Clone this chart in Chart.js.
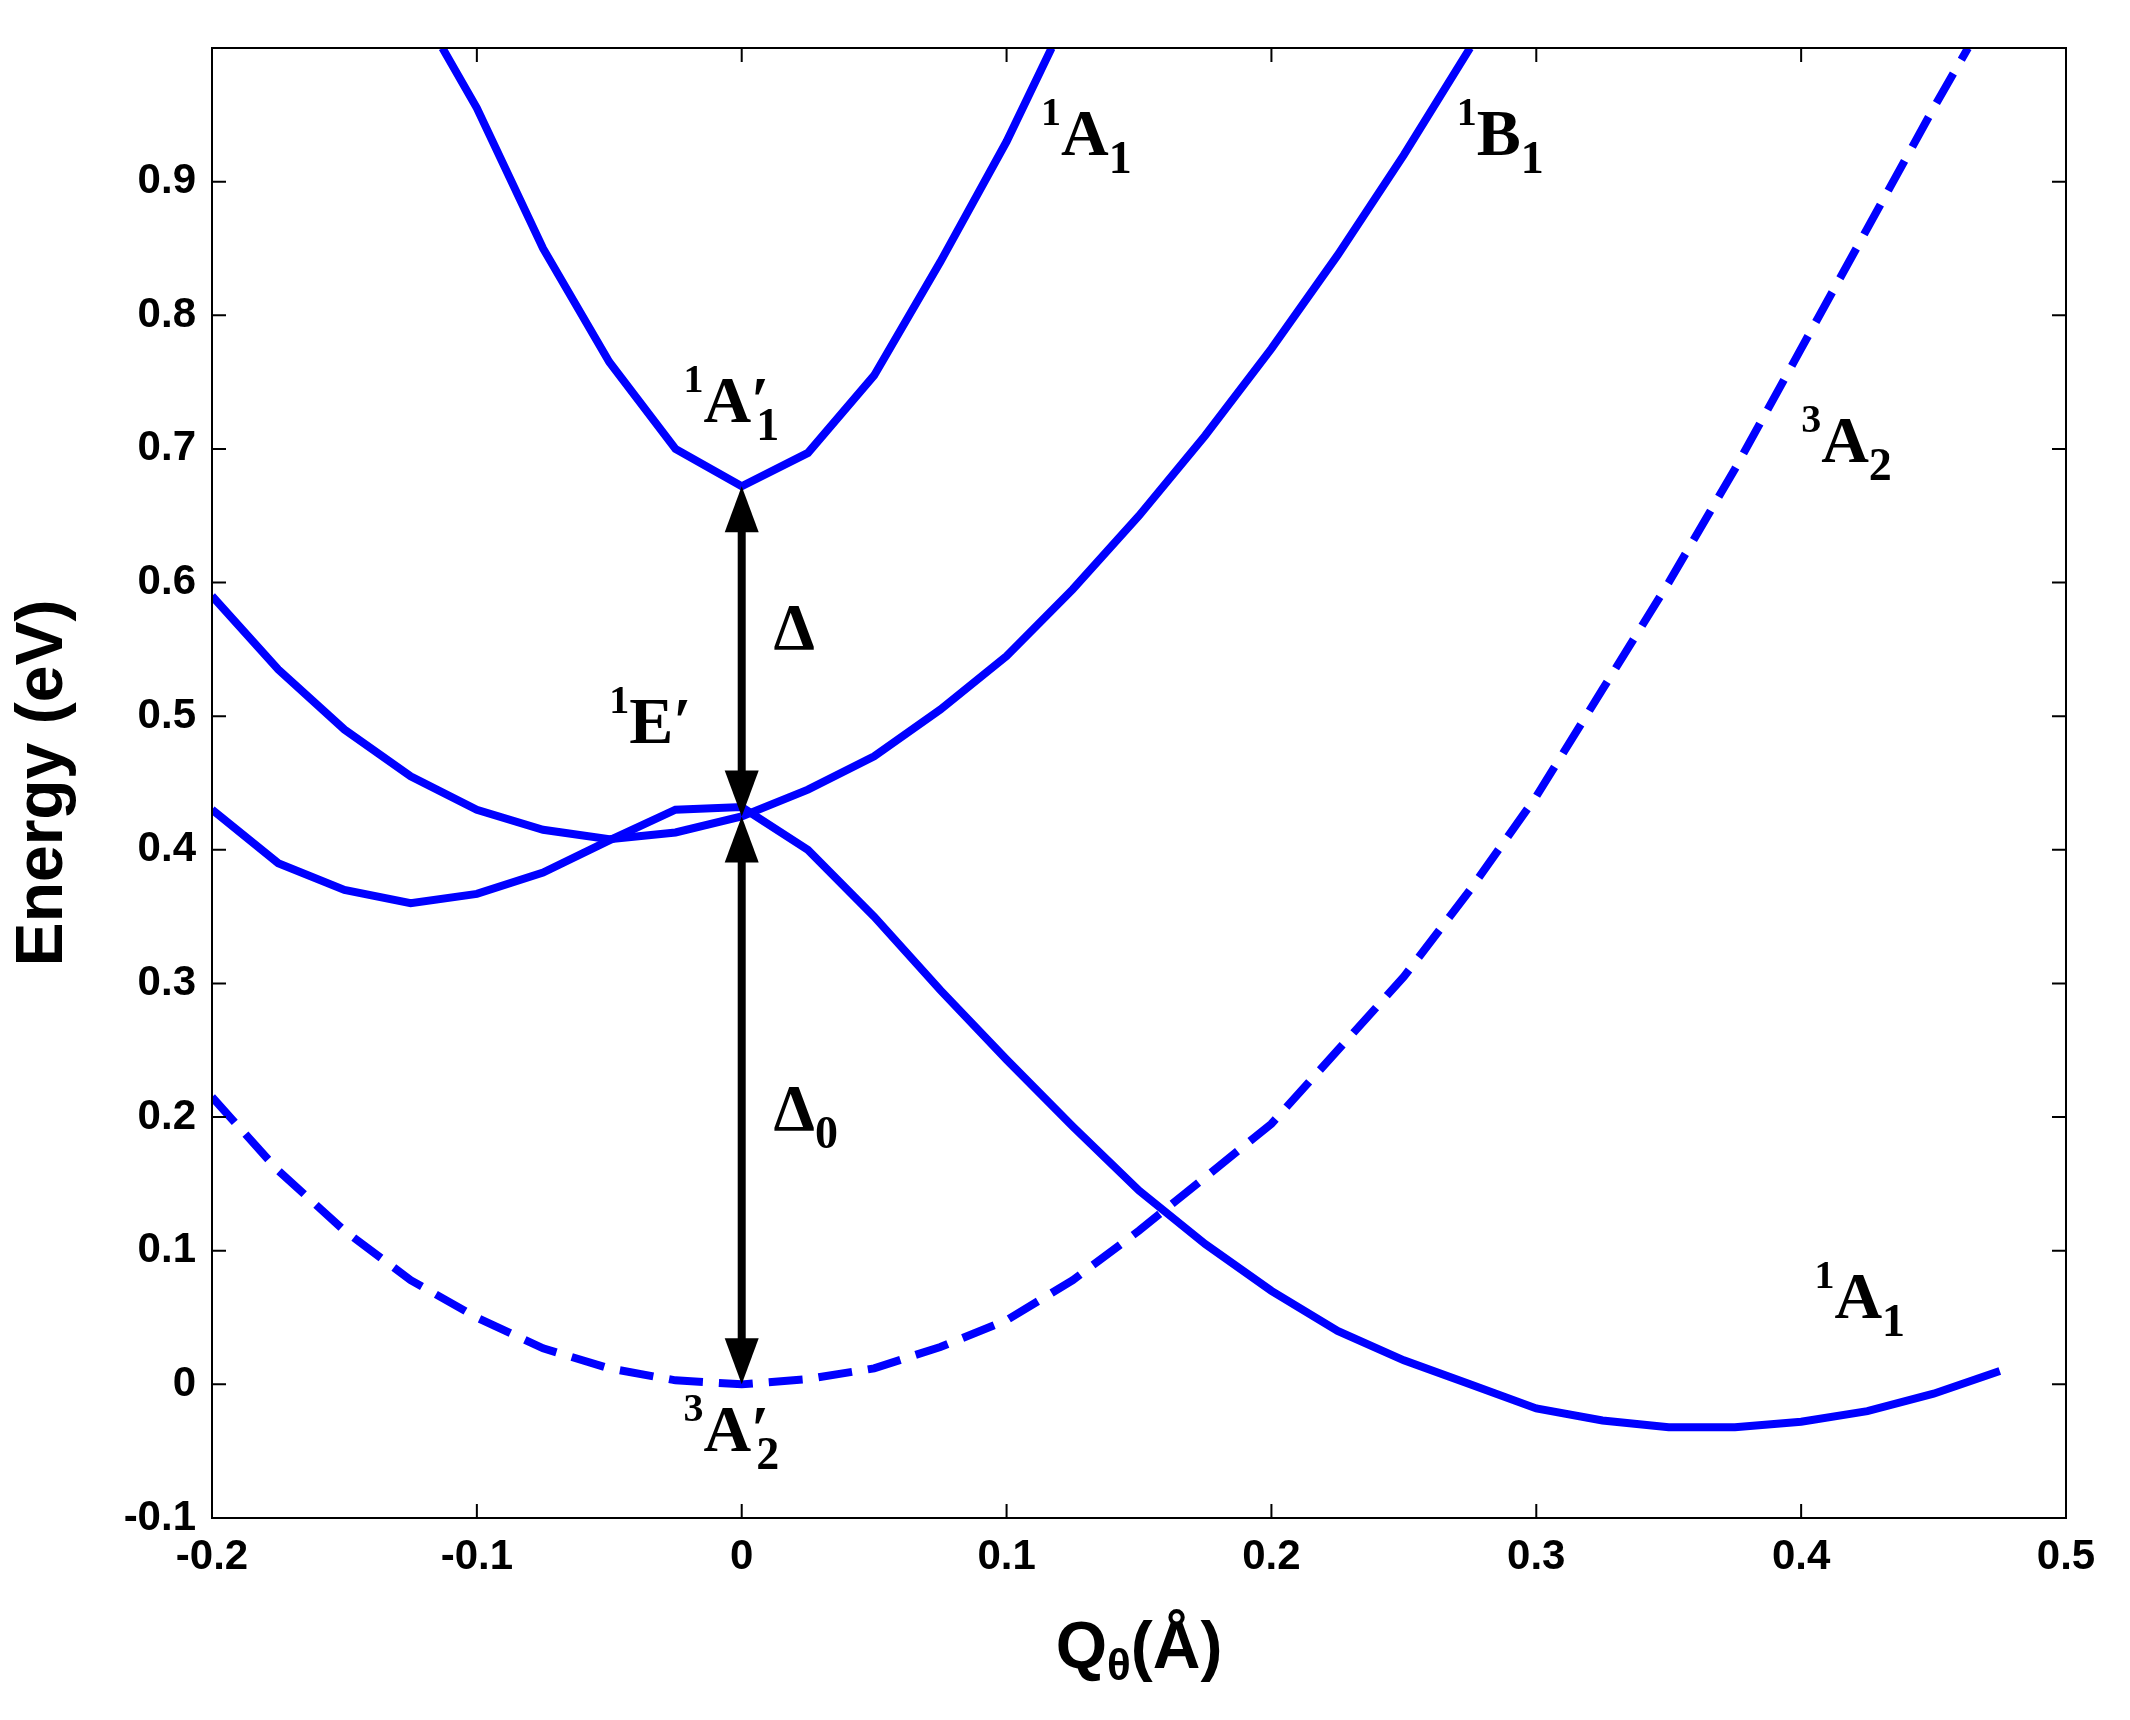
<!DOCTYPE html><html><head><style>html,body{margin:0;background:#fff}</style>
<script src="https://cdn.jsdelivr.net/npm/chart.js@4"></script></head><body>
<div style="width:2130px;height:1720px"><canvas id="c"></canvas></div>
<script>
const tripletX=[-0.2,-0.175,-0.15,-0.125,-0.1,-0.075,-0.05,-0.025,0,0.025,0.05,0.075,0.1,0.125,0.15,0.175,0.2,0.225,0.25,0.275,0.3,0.325,0.35,0.375,0.4,0.425,0.45,0.463];
const tripletY=[0.215,0.16,0.115,0.078,0.05,0.027,0.012,0.003,0,0.004,0.012,0.028,0.048,0.078,0.115,0.155,0.195,0.25,0.305,0.37,0.44,0.52,0.6,0.685,0.775,0.865,0.955,1.0];
const upperA1X=[-0.113,-0.1,-0.075,-0.05,-0.025,0,0.025,0.05,0.075,0.1,0.117];
const upperA1Y=[1.0,0.955,0.85,0.765,0.7,0.672,0.697,0.755,0.84,0.93,1.0];
const b1X=[-0.2,-0.175,-0.15,-0.125,-0.1,-0.075,-0.05,-0.025,0,0.025,0.05,0.075,0.1,0.125,0.15,0.175,0.2,0.225,0.25,0.275];
const b1Y=[0.59,0.535,0.49,0.455,0.43,0.415,0.408,0.413,0.425,0.445,0.47,0.505,0.545,0.595,0.65,0.71,0.775,0.845,0.92,1.0];
const lowerA1X=[-0.2,-0.175,-0.15,-0.125,-0.1,-0.075,-0.05,-0.025,0,0.025,0.05,0.075,0.1,0.125,0.15,0.175,0.2,0.225,0.25,0.275,0.3,0.325,0.35,0.375,0.4,0.425,0.45,0.475];
const lowerA1Y=[0.43,0.39,0.37,0.36,0.367,0.383,0.407,0.43,0.432,0.4,0.35,0.295,0.243,0.193,0.145,0.105,0.07,0.04,0.018,0,-0.018,-0.027,-0.032,-0.032,-0.028,-0.02,-0.007,0.01];
const arrowPts=[0,0.425,0.672];
const labels=[
 {sup:'1',main:'A',sub:'1',prime:false,x:0.113,y:0.92},
 {sup:'1',main:'B',sub:'1',prime:false,x:0.27,y:0.92},
 {sup:'3',main:'A',sub:'2',prime:false,x:0.4,y:0.69},
 {sup:'1',main:'A',sub:'1',prime:true,x:-0.022,y:0.72},
 {sup:'',main:'Δ',sub:'',prime:false,x:0.012,y:0.55},
 {sup:'1',main:'E',sub:'',prime:true,x:-0.05,y:0.48},
 {sup:'',main:'Δ',sub:'0',prime:false,x:0.012,y:0.19},
 {sup:'3',main:'A',sub:'2',prime:true,x:-0.022,y:-0.05},
 {sup:'1',main:'A',sub:'1',prime:false,x:0.405,y:0.05}
];
const pts=(xs,ys)=>xs.map((x,i)=>({x,y:ys[i]}));
const blue='#0000ff';
const ds=(xs,ys,dash)=>({data:pts(xs,ys),borderColor:blue,borderWidth:8,pointRadius:0,borderDash:dash||[],fill:false,tension:0});
const deco={id:'deco',afterDraw(ch){
 const c=ch.ctx,xs=ch.scales.x,ys=ch.scales.y,a=ch.chartArea;
 c.save();
 c.strokeStyle='#000';c.lineWidth=2;c.strokeRect(a.left,a.top,a.right-a.left,a.bottom-a.top);
 for(let v=-0.2;v<=0.5001;v+=0.1){const px=xs.getPixelForValue(v);c.beginPath();c.moveTo(px,a.bottom);c.lineTo(px,a.bottom-14);c.moveTo(px,a.top);c.lineTo(px,a.top+14);c.stroke();}
 for(let v=-0.1;v<=1.0001;v+=0.1){const py=ys.getPixelForValue(v);c.beginPath();c.moveTo(a.left,py);c.lineTo(a.left+14,py);c.moveTo(a.right,py);c.lineTo(a.right-14,py);c.stroke();}
 const ax=xs.getPixelForValue(0);c.lineWidth=8;c.fillStyle='#000';
 const arrow=(y1,y2)=>{const p1=ys.getPixelForValue(y1),p2=ys.getPixelForValue(y2);
  c.beginPath();c.moveTo(ax,p1-30);c.lineTo(ax,p2+30);c.stroke();
  c.beginPath();c.moveTo(ax,p1);c.lineTo(ax-17,p1-46);c.lineTo(ax+17,p1-46);c.fill();
  c.beginPath();c.moveTo(ax,p2);c.lineTo(ax-17,p2+46);c.lineTo(ax+17,p2+46);c.fill();};
 arrow(arrowPts[0],arrowPts[1]);arrow(arrowPts[1],arrowPts[2]);
 c.fillStyle='#000';c.textBaseline='alphabetic';c.textAlign='left';
 labels.forEach(l=>{let x=xs.getPixelForValue(l.x),y=ys.getPixelForValue(l.y);
  c.font='bold 40px "Liberation Serif"';if(l.sup){c.fillText(l.sup,x,y-30);x+=c.measureText(l.sup).width;}
  c.font='bold 66px "Liberation Serif"';c.fillText(l.main,x,y);x+=c.measureText(l.main).width;
  if(l.prime){c.fillText('′',x,y);x+=c.measureText('′').width*0.6;}
  c.font='bold 46px "Liberation Serif"';if(l.sub)c.fillText(l.sub,x-(l.prime?6:0),y+18);});
 // x title Q_θ(Å)
 const cx=(a.left+a.right)/2, ty=1668;
 c.font='bold 66px "Liberation Sans"';const w1=c.measureText('Q').width, w3=c.measureText('(Å)').width;
 c.font='bold 44px "Liberation Sans"';const w2=c.measureText('θ').width;
 let sx=cx-(w1+w2+w3)/2;
 c.font='bold 66px "Liberation Sans"';c.fillText('Q',sx,ty);
 c.font='bold 44px "Liberation Sans"';c.fillText('θ',sx+w1,ty+12);
 c.font='bold 66px "Liberation Sans"';c.fillText('(Å)',sx+w1+w2,ty);
 c.restore();}};
new Chart(document.getElementById('c'),{type:'line',
 data:{datasets:[ds(tripletX,tripletY,[34,16]),ds(upperA1X,upperA1Y),ds(b1X,b1Y),ds(lowerA1X,lowerA1Y)]},
 options:{responsive:true,maintainAspectRatio:false,animation:false,devicePixelRatio:1,
  layout:{padding:{top:48,right:64,left:0,bottom:0}},
  plugins:{legend:{display:false},tooltip:{enabled:false}},
  scales:{
   x:{type:'linear',min:-0.2,max:0.5,afterFit(s){s.height=202;},
    ticks:{stepSize:0.1,color:'#000',font:{family:'Liberation Sans',weight:'bold',size:42},padding:6,
     callback:v=>{const r=Math.round(v*10)/10;return r===0?'0':r.toFixed(1);}},
    grid:{display:false},border:{display:false}},
   y:{type:'linear',min:-0.1,max:1.0,afterFit(s){s.width=212;},
    ticks:{stepSize:0.1,color:'#000',font:{family:'Liberation Sans',weight:'bold',size:42},padding:8,
     callback:v=>{const r=Math.round(v*10)/10;return r>=1?'':(r===0?'0':r.toFixed(1));}},
    grid:{display:false},border:{display:false},
    title:{display:true,text:'Energy (eV)',color:'#000',font:{family:'Liberation Sans',weight:'bold',size:66},padding:{bottom:4}}}}},
 plugins:[deco]});
</script></body></html>
